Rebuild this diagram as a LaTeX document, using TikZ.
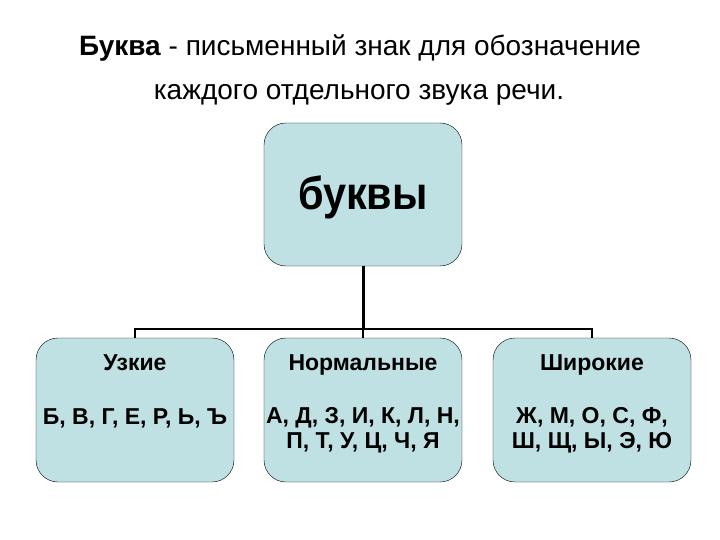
\documentclass[tikz,border=0pt]{standalone}
\usepackage{fontspec}
\setmainfont{Liberation Sans}
\newfontfamily\rootfont[FakeStretch=0.9]{Liberation Sans}
\usepackage{tikz}
\usetikzlibrary{positioning, arrows.meta}

\definecolor{boxfill}{RGB}{191,225,228}

\begin{document}
\begin{tikzpicture}[x=1pt, y=-1pt]
	
	% 样式
	\tikzset{
		letterbox/.style = {
			draw, fill=boxfill, rounded corners=22pt,
			minimum width=\boxw pt, minimum height=144pt,
			inner sep=0pt
		},
		head/.style = {
			anchor=base,
			font=\fontsize{23}{25}\selectfont\bfseries
		},
		letters/.style = {
			align=center,
			font=\fontsize{23}{25}\selectfont\bfseries
		},
		title/.style = {
			font=\fontsize{28}{34}\selectfont
		}
	}
	
	% 参数
	\def \boxw {198}
	
	\useasboundingbox (0,0) rectangle (720,540);
	
	% 标题
	\node[title] (titleA) at (360,48) {\textbf{Буква} - письменный знак для обозначение};
	\node[title] (titleB) at (359,95) {каждого отдельного звука речи.};
	
	% 方框
	\node[letterbox, minimum height=143pt] (root) at (363,194.5) {};
	\node[anchor=base, font=\rootfont\fontsize{46}{50}\selectfont\bfseries] (rootlabel) at (363,210) {буквы};
	
	\node[letterbox] (narrow) at (135,410) {};
	\node[letterbox] (normal) at (363,410) {};
	\node[letterbox] (wide) at (592,410) {};
	
	\node[head] (narrowhead) at (135,370) {Узкие};
	\node[head] (normalhead) at (363,370) {Нормальные};
	\node[head] (widehead) at (592,370) {Широкие};
	
	\node[letters] (narrowlist) at (135,418.5) {Б, В, Г, Е, Р, Ь, Ъ};
	\node[letters] (normallist) at (363,430) {А, Д, З, И, К, Л, Н,\\П, Т, У, Ц, Ч, Я};
	\node[letters] (widelist) at (592,430) {Ж, М, О, С, Ф,\\Ш, Щ, Ы, Э, Ю};
	
	% 连线
	\coordinate (junction) at (363,329);
	\draw[line width=3pt] (root.south) -- (junction);
	\draw[line width=2pt] (narrow.north) |- (junction) -| (wide.north);
	\draw[line width=2pt] (junction) -- (normal.north);
	
\end{tikzpicture}
\end{document}
